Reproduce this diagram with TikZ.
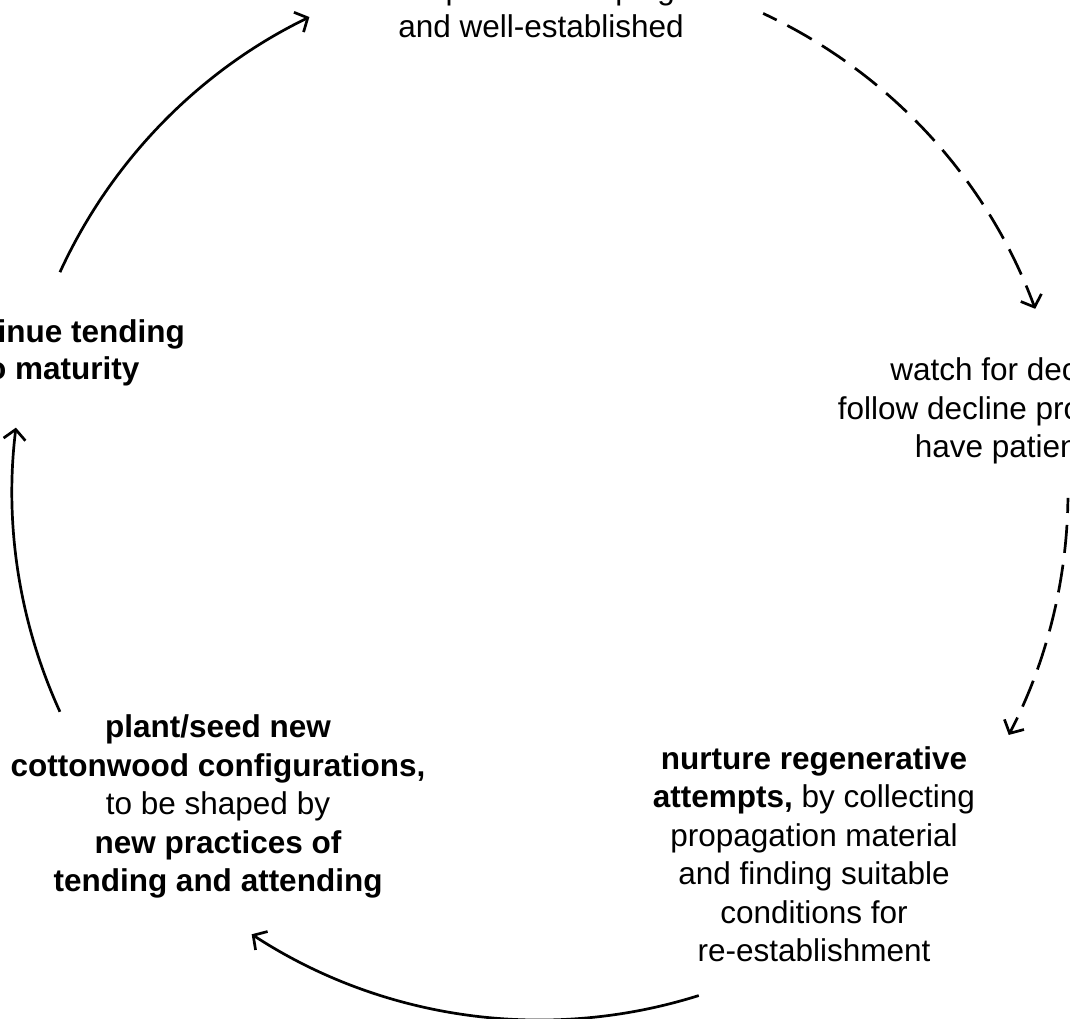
\documentclass[tikz,border=0pt]{standalone}
\usepackage{fontspec}
\setmainfont{Liberation Sans}
\usetikzlibrary{arrows.meta,calc}
\begin{document}
\begin{tikzpicture}[x=1pt,y=1pt,
  txt/.style={align=center,anchor=base,inner sep=0pt,font=\fontsize{31.5}{38.5}\selectfont},
  cyc/.style={line width=2.7pt,-{Straight Barb[length=10pt,width=22pt,line width=2.7pt]}},
  dsh/.style={cyc,dash pattern=on 28pt off 12pt,dash phase=13pt}]
\useasboundingbox (0,0) rectangle (1070,1019);
\clip (0,0) rectangle (1070,1019);
\fill[white] (0,0) rectangle (1070,1019);
\coordinate (O) at (540,527);
% texts (anchor = baseline of last line)
\node[txt] (top) at (541,981) {whose presence is poignant\\and well-established};
\node[txt,font=\fontsize{31.5}{37}\selectfont] (lft) at (58,639) {\bfseries continue tending\\\bfseries to maturity};
\node[txt] (rgt) at (1013,561) {watch for decline,\\follow decline processes,\\have patience};
\node[txt] (bl) at (218,127) {\bfseries plant/seed new\\\bfseries cottonwood configurations,\\to be shaped by\\\bfseries new practices of\\\bfseries tending and attending};
\node[txt] (br) at (814,57) {\bfseries nurture regenerative\\\textbf{attempts,} by collecting\\propagation material\\and finding suitable\\conditions for\\re-establishment};
% arcs
\coordinate (s1) at ($(O)+(155.4:528)$);
\draw[cyc] (s1) arc[start angle=155.4,end angle=115.9,radius=528];
\coordinate (s2) at ($(O)+(65:528)$);
\draw[dsh] (s2) arc[start angle=65,end angle=20.3,radius=528];
\coordinate (s3) at ($(O)+(-0.65:528)$);
\draw[dsh] (s3) arc[start angle=-0.65,end angle=-27.4,radius=528];
\coordinate (s4) at ($(O)+(-72.5:528)$);
\draw[cyc] (s4) arc[start angle=-72.5,end angle=-123.1,radius=528];
\coordinate (s5) at ($(O)+(-155.4:528)$);
\draw[cyc] (s5) arc[start angle=-155.4,end angle=-187,radius=528];
\end{tikzpicture}
\end{document}
